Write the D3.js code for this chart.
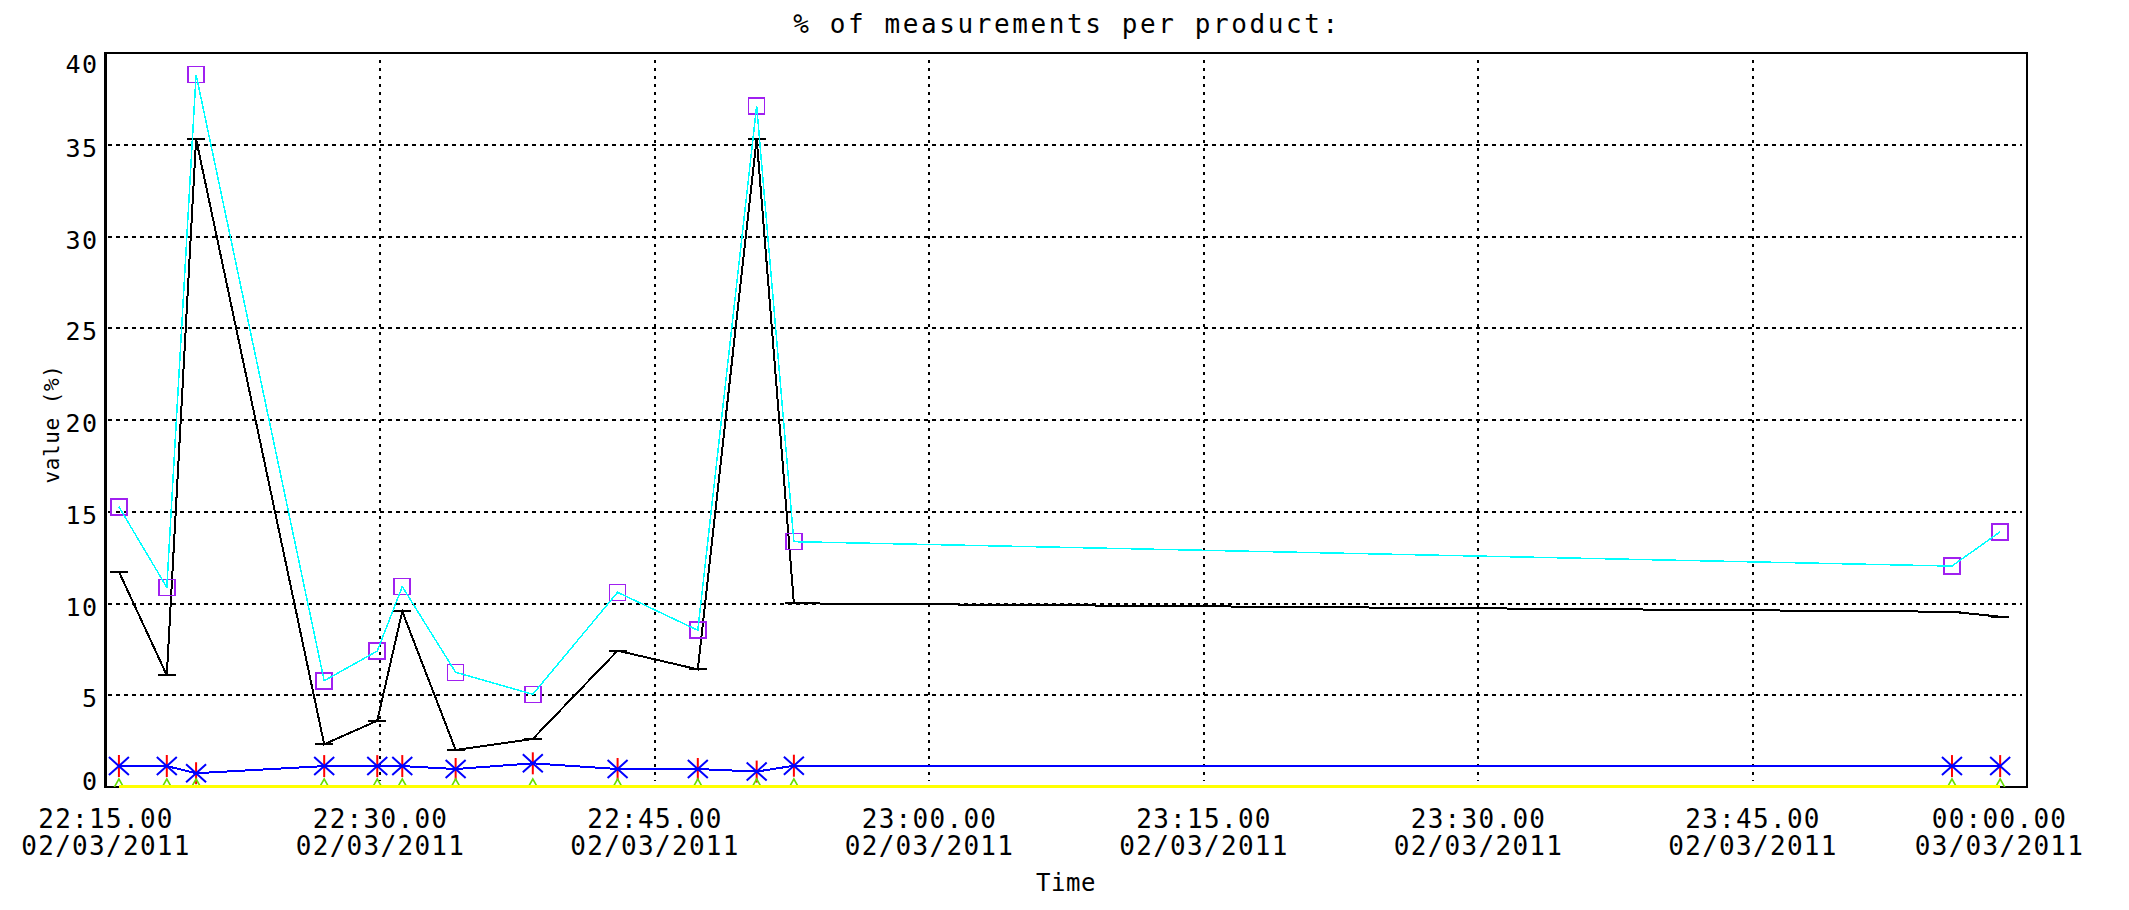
<!DOCTYPE html>
<html>
<head>
<meta charset="utf-8">
<script src="https://cdn.jsdelivr.net/npm/d3@7"></script>
<style>
  html, body { margin: 0; padding: 0; background: #fff; }
  svg { display: block; }
  text { font-family: "DejaVu Sans Mono", monospace; fill: #000; }
</style>
</head>
<body>
<svg id="chart" width="2129" height="910"></svg>
<script>
// Sample times (02/03/2011 and 03/03/2011)
const sampleTimes = ["2011-03-02 22:15:44", "2011-03-02 22:18:21", "2011-03-02 22:19:57",
  "2011-03-02 22:26:57", "2011-03-02 22:29:51", "2011-03-02 22:31:13", "2011-03-02 22:34:08",
  "2011-03-02 22:38:21", "2011-03-02 22:42:59", "2011-03-02 22:47:22", "2011-03-02 22:50:35",
  "2011-03-02 22:52:37", "2011-03-02 23:55:54", "2011-03-02 23:58:32"];

// Percentage of measurements per product
const cyanSeries   = [15.27, 10.88, 38.82, 5.79, 7.41, 10.92, 6.25, 5.05, 10.61, 8.54, 37.12, 13.37, 12.04, 13.91];
const blackSeries  = [11.73, 6.09, 35.31, 2.33, 3.61, 9.57, 2.02, 2.62, 7.43, 6.41, 35.34, 10.01, 9.55, 9.28];
const blueSeries   = [1.14, 1.14, 0.75, 1.14, 1.14, 1.14, 0.98, 1.29, 0.98, 0.98, 0.84, 1.16, 1.14, 1.14];
const yellowSeries = [0, 0, 0, 0, 0, 0, 0, 0, 0, 0, 0, 0, 0, 0];

// Axis ticks
const yTicks = [0, 5, 10, 15, 20, 25, 30, 35, 40];
const xTickTimes = ["2011-03-02 22:15:00", "2011-03-02 22:30:00", "2011-03-02 22:45:00",
  "2011-03-02 23:00:00", "2011-03-02 23:15:00", "2011-03-02 23:30:00", "2011-03-02 23:45:00",
  "2011-03-03 00:00:00"];
const xDomain = ["2011-03-02 22:15:00", "2011-03-03 00:00:00"];

const titleText = "% of measurements per product:";
const xTitle = "Time";
const yTitle = "value (%)";

const parse = d3.timeParse("%Y-%m-%d %H:%M:%S");
const times = sampleTimes.map(parse);

const plot = { left: 105.5, right: 2027, top: 53, bottom: 787 };

const x = d3.scaleTime().domain(xDomain.map(parse)).range([plot.left, plot.right]);
const y = d3.scaleLinear().domain([0, 40]).range([plot.bottom, plot.top]);

const svg = d3.select("#chart");
svg.append("rect").attr("width", 2129).attr("height", 910).attr("fill", "#fff");

svg.append("defs").append("clipPath").attr("id", "plotclip")
  .append("rect")
  .attr("x", plot.left).attr("y", plot.top)
  .attr("width", plot.right - plot.left).attr("height", plot.bottom - plot.top);

// Grid
const grid = svg.append("g").attr("shape-rendering", "crispEdges");
grid.selectAll("line.h").data(yTicks.filter(v => v > 0 && v < 40)).join("line")
  .attr("x1", plot.left + 2).attr("x2", plot.right - 5)
  .attr("y1", d => y(d)).attr("y2", d => y(d))
  .attr("stroke", "#000").attr("stroke-width", 2).attr("stroke-dasharray", "4,4");
grid.selectAll("line.v").data(xTickTimes.map(parse).slice(1, -1)).join("line")
  .attr("x1", d => x(d)).attr("x2", d => x(d))
  .attr("y1", plot.top + 7).attr("y2", plot.bottom - 6)
  .attr("stroke", "#000").attr("stroke-width", 2).attr("stroke-dasharray", "3,5");

// Frame
svg.append("rect")
  .attr("x", plot.left).attr("y", plot.top)
  .attr("width", plot.right - plot.left).attr("height", plot.bottom - plot.top)
  .attr("fill", "none").attr("stroke", "#000").attr("stroke-width", 2.5)
  .attr("shape-rendering", "crispEdges");

// Series
const marks = svg.append("g").attr("clip-path", "url(#plotclip)");
const lineOf = vals => d3.line().x((d, i) => x(times[i])).y(d => y(d))(vals);

// black series with bar markers
marks.append("path").attr("d", lineOf(blackSeries))
  .attr("fill", "none").attr("stroke", "#000").attr("stroke-width", 2)
  .attr("shape-rendering", "crispEdges");
marks.selectAll("line.bar").data(blackSeries).join("line")
  .attr("x1", (d, i) => x(times[i]) - 9).attr("x2", (d, i) => x(times[i]) + 9)
  .attr("y1", d => y(d)).attr("y2", d => y(d))
  .attr("stroke", "#000").attr("stroke-width", 2).attr("shape-rendering", "crispEdges");

// purple squares + cyan line
marks.selectAll("rect.sq").data(cyanSeries).join("rect")
  .attr("x", (d, i) => x(times[i]) - 8).attr("y", d => y(d) - 8)
  .attr("width", 16).attr("height", 16)
  .attr("fill", "none").attr("stroke", "#a020f0").attr("stroke-width", 1.6)
  .attr("shape-rendering", "crispEdges");
marks.append("path").attr("d", lineOf(cyanSeries))
  .attr("fill", "none").attr("stroke", "#00ffff").attr("stroke-width", 1.5)
  .attr("shape-rendering", "crispEdges");

// blue series with asterisks
marks.append("path").attr("d", lineOf(blueSeries))
  .attr("fill", "none").attr("stroke", "#0000ff").attr("stroke-width", 2)
  .attr("shape-rendering", "crispEdges");
const ast = marks.selectAll("g.ast").data(blueSeries).join("g")
  .attr("transform", (d, i) => `translate(${x(times[i])},${y(d)})`);
ast.append("line").attr("x1", 0).attr("x2", 0).attr("y1", -11).attr("y2", 11)
  .attr("stroke", "#ff0000").attr("stroke-width", 2);
ast.append("path").attr("d", "M-10,-9L10,9M-10,9L10,-9")
  .attr("stroke", "#0000ff").attr("stroke-width", 2).attr("fill", "none");

// yellow series with triangles (line sits on the bottom axis)
marks.selectAll("path.tri").data(yellowSeries).join("path")
  .attr("transform", (d, i) => `translate(${x(times[i])},${y(d)})`)
  .attr("d", "M-9,8L0,-8L9,8")
  .attr("fill", "none").attr("stroke", "#66dd00").attr("stroke-width", 1.6);
svg.append("path").attr("d", lineOf(yellowSeries))
  .attr("fill", "none").attr("stroke", "#ffff00").attr("stroke-width", 3)
  .attr("transform", "translate(0,-1)")
  .attr("shape-rendering", "crispEdges");

// Y axis labels
const yAxis = svg.append("g").attr("transform", `translate(${plot.left},0)`)
  .call(d3.axisLeft(y).tickValues(yTicks).tickSize(0).tickPadding(0).tickFormat(d3.format("d")));
yAxis.select(".domain").remove();
yAxis.selectAll("text")
  .attr("font-family", "DejaVu Sans Mono").attr("font-size", 25).attr("letter-spacing", 1.5)
  .attr("x", -7).attr("dy", null).attr("dominant-baseline", "central")
  .attr("y", d => Math.min(Math.max(y(d) + 3, plot.top + 11), plot.bottom - 6) - y(d));

// X axis labels (two lines)
const fmtTime = d3.timeFormat("%H:%M.%S");
const fmtDate = d3.timeFormat("%d/%m/%Y");
const xAxis = svg.append("g").attr("transform", `translate(0,${plot.bottom})`)
  .call(d3.axisBottom(x).tickValues(xTickTimes.map(parse)).tickSize(0).tickFormat(""));
xAxis.select(".domain").remove();
xAxis.selectAll(".tick").each(function (d) {
  const t = d3.select(this).select("text");
  const shift = Math.min(x(d), plot.right - 28) - x(d);
  t.attr("y", null).attr("dy", null)
    .attr("font-family", "DejaVu Sans Mono").attr("font-size", 26).attr("letter-spacing", 1.3);
  t.append("tspan").attr("x", shift).attr("y", 41).text(fmtTime(d));
  t.append("tspan").attr("x", shift).attr("y", 68).text(fmtDate(d));
});

// Titles
svg.append("text").attr("x", 1067).attr("y", 33).attr("text-anchor", "middle")
  .attr("font-size", 26).attr("letter-spacing", 2.6).text(titleText);
svg.append("text").attr("x", 1066).attr("y", 891).attr("text-anchor", "middle")
  .attr("font-size", 24).attr("letter-spacing", 0.5).text(xTitle);
svg.append("text").attr("transform", "translate(59,424) rotate(-90)").attr("text-anchor", "middle")
  .attr("font-size", 21).attr("letter-spacing", 0.6).text(yTitle);
</script>
</body>
</html>
